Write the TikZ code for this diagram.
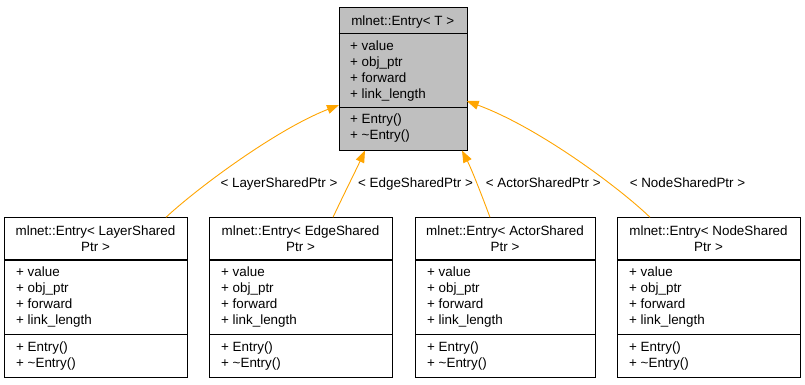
\documentclass[tikz,border=0pt]{standalone}
\usepackage{fontspec}
\setmainfont{Liberation Sans}
\usetikzlibrary{arrows.meta}
\definecolor{basefill}{HTML}{BFBFBF}
\definecolor{inherit}{HTML}{FFA500}
\tikzset{
  classbox/.style={draw=black, line width=1pt, rectangle, inner sep=0pt, anchor=north west},
  divider/.style={draw=black, line width=1.5pt},
  member/.style={anchor=base west, inner sep=0pt},
  title/.style={anchor=base, inner sep=0pt},
  edgelabel/.style={anchor=base, inner sep=0pt},
  inheritance/.style={draw=inherit, line width=0.9pt, -{Triangle[length=12pt,width=9pt]}},
}
% members of a derived class box: #1 = left x, #2 = right x, #3 = name prefix
\newcommand{\derivedclass}[4]{%
  \node[classbox, minimum width=#2-#1, minimum height=159.5pt] (#3) at (#1,217.3) {};
  \draw[divider] (#1,260) -- (#2,260);
  \draw[divider] (#1,334.3) -- (#2,334.3);
  \node[title] (#3t1) at ({(#1+#2)/2},235.5) {mlnet::Entry< #4Shared};
  \node[title] (#3t2) at ({(#1+#2)/2},251.5) {Ptr >};
  \node[member] (#3a1) at (#1+12,276.7) {+ value};
  \node[member] (#3a2) at (#1+12,292.7) {+ obj\_ptr};
  \node[member] (#3a3) at (#1+12,308.7) {+ forward};
  \node[member] (#3a4) at (#1+12,324.7) {+ link\_length};
  \node[member] (#3m1) at (#1+12,351) {+ Entry()};
  \node[member] (#3m2) at (#1+12,367) {+ \char`\~Entry()};
}
\begin{document}
\begin{tikzpicture}[x=1pt, y=-1pt, font=\fontsize{13.4}{16}\selectfont]
\useasboundingbox (0,0) rectangle (805,384);
\fill[white] (0,0) rectangle (805,384);

% base class template
\node[classbox, fill=basefill, minimum width=128pt, minimum height=143pt] (base) at (338.7,7) {};
\draw[divider] (338.7,33.5) -- (466.7,33.5);
\draw[divider] (338.7,107.3) -- (466.7,107.3);
\node[title] (baset) at (402.7,25) {mlnet::Entry< T >};
\node[member] (basea1) at (350,50.5) {+ value};
\node[member] (basea2) at (350,66.5) {+ obj\_ptr};
\node[member] (basea3) at (350,82.5) {+ forward};
\node[member] (basea4) at (350,98.5) {+ link\_length};
\node[member] (basem1) at (350,123) {+ Entry()};
\node[member] (basem2) at (350,139) {+ \char`\~Entry()};

% template instantiations
\derivedclass{4}{187}{layer}{Layer}
\derivedclass{209}{392}{edge}{Edge}
\derivedclass{415}{595}{actor}{Actor}
\derivedclass{617}{800}{nodecls}{Node}

% anchor points on the borders
\coordinate (layerS) at (166,217.3);
\coordinate (edgeS) at (333,217.3);
\coordinate (actorS) at (490,217.3);
\coordinate (nodeS) at (650,217.3);
\coordinate (baseL) at (339,105);
\coordinate (baseBL) at (365,150.5);
\coordinate (baseBR) at (462,150.5);
\coordinate (baseR) at (466.7,101);

% inheritance relations
\draw[inheritance] (layerS) .. controls (195,190) and (275,130) .. (baseL);
\draw[inheritance] (edgeS) .. controls (342,198) and (356,170) .. (baseBL);
\draw[inheritance] (actorS) .. controls (482,196) and (472,170) .. (baseBR);
\draw[inheritance] (nodeS) .. controls (622,190) and (540,128) .. (baseR);

\node[edgelabel] (llayer) at (279,187) {< LayerSharedPtr >};
\node[edgelabel] (ledge) at (415.5,187) {< EdgeSharedPtr >};
\node[edgelabel] (lactor) at (543.3,187) {< ActorSharedPtr >};
\node[edgelabel] (lnode) at (687.5,187) {< NodeSharedPtr >};
\end{tikzpicture}
\end{document}
